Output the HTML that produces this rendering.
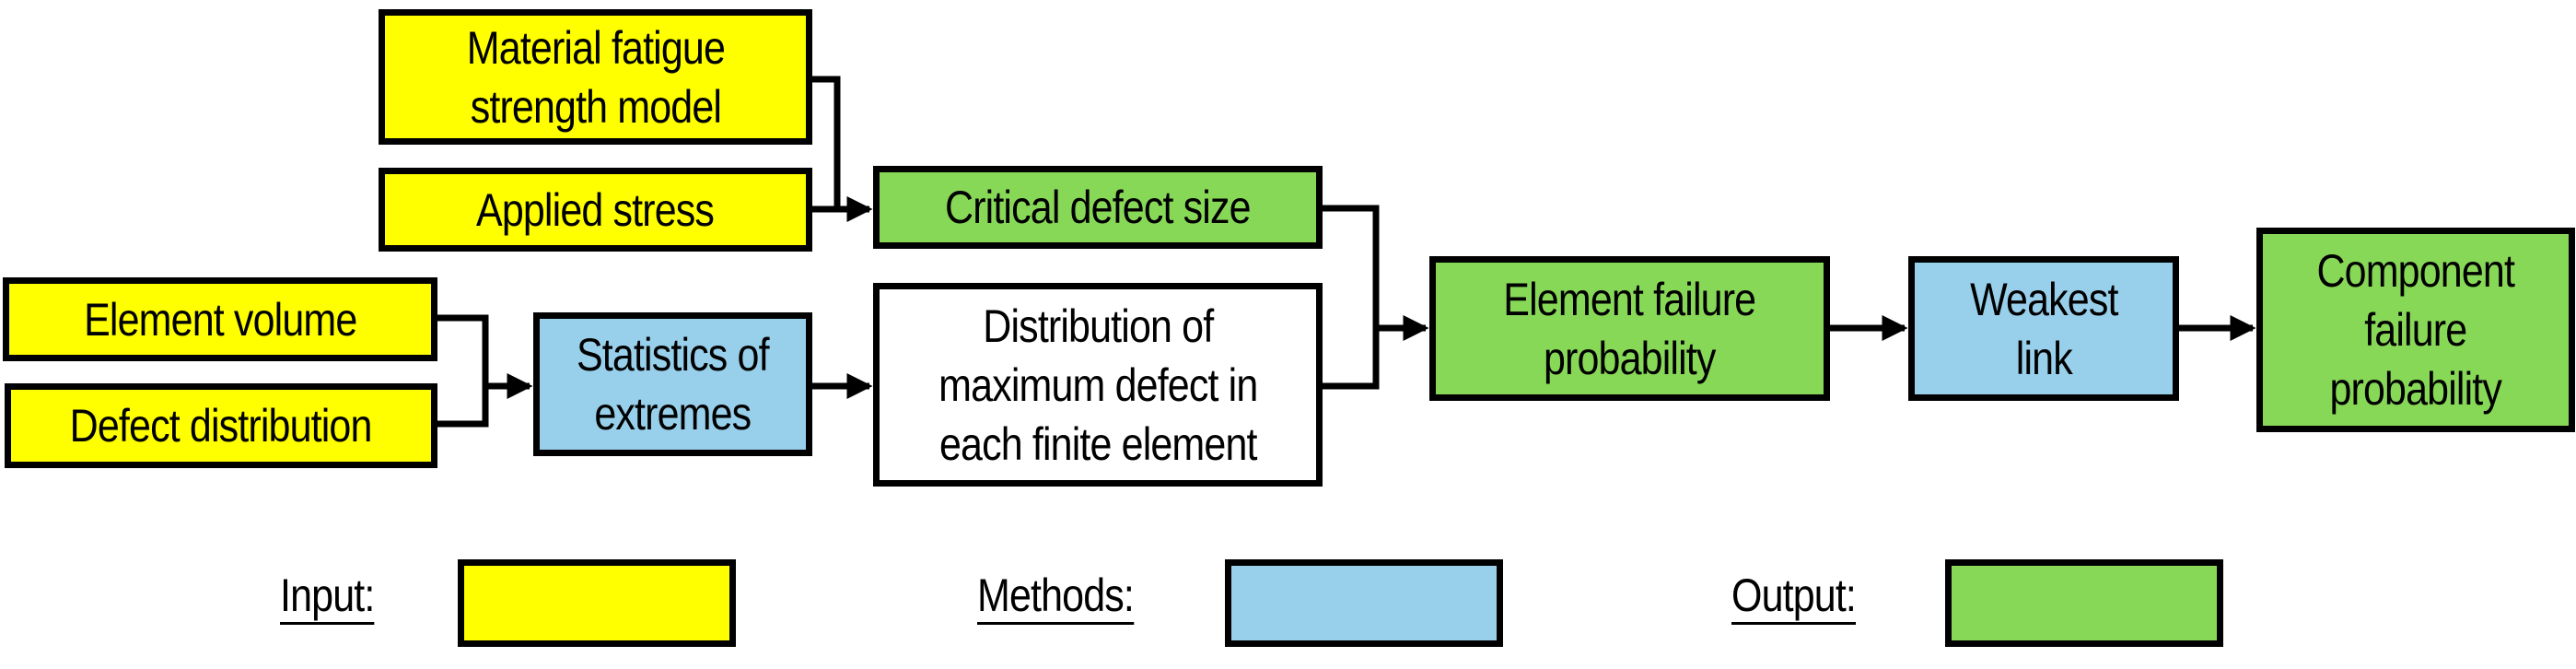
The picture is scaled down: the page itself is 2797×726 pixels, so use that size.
<!DOCTYPE html>
<html><head><meta charset="utf-8"><style>
html,body{margin:0;padding:0;background:#fff;}
#c{position:relative;width:2797px;height:726px;overflow:hidden;font-family:"Liberation Sans",sans-serif;}
.b{position:absolute;box-sizing:border-box;border:7px solid #000;display:flex;align-items:center;justify-content:center;text-align:center;font-size:50px;line-height:64px;letter-spacing:-1px;color:#000;}
.b span{display:inline-block;transform:scaleX(0.86);white-space:nowrap;}
.y{background:#ffff00}.g{background:#88d858}.bl{background:#98d0ec}.w{background:#fff}
.t{position:absolute;font-size:50px;letter-spacing:-1px;transform:scaleX(0.86);transform-origin:left top;border-bottom:3px solid #000;line-height:58px;}
svg{position:absolute;left:0;top:0}
</style></head><body><div id="c">
<svg width="2797" height="726">
<defs><marker id="a" markerWidth="4" markerHeight="4" refX="3.5" refY="2" orient="auto" markerUnits="strokeWidth"><path d="M0,0 L4,2 L0,4 Z" fill="#000"/></marker></defs>
<g stroke="#000" stroke-width="7" fill="none">
<polyline points="882,86 909,86 909,227"/>
<line x1="882" y1="227" x2="944" y2="227" marker-end="url(#a)"/>
<polyline points="475,345 527,345 527,460 475,460"/>
<line x1="527" y1="419" x2="575" y2="419" marker-end="url(#a)"/>
<line x1="882" y1="419" x2="944" y2="419" marker-end="url(#a)"/>
<polyline points="1436,226 1494,226 1494,419 1436,419"/>
<line x1="1494" y1="356" x2="1548" y2="356" marker-end="url(#a)"/>
<line x1="1987" y1="356" x2="2068" y2="356" marker-end="url(#a)"/>
<line x1="2366" y1="356" x2="2446" y2="356" marker-end="url(#a)"/>
</g></svg>
<div class="b y" style="left:411px;top:10px;width:471px;height:147px"><span>Material fatigue<br>strength model</span></div>
<div class="b y" style="left:411px;top:182px;width:471px;height:91px"><span>Applied stress</span></div>
<div class="b g" style="left:948px;top:180px;width:488px;height:90px"><span>Critical defect size</span></div>
<div class="b y" style="left:3px;top:301px;width:472px;height:91px"><span>Element volume</span></div>
<div class="b y" style="left:5px;top:416px;width:470px;height:92px"><span>Defect distribution</span></div>
<div class="b bl" style="left:579px;top:339px;width:303px;height:156px"><span>Statistics of<br>extremes</span></div>
<div class="b w" style="left:948px;top:307px;width:488px;height:221px"><span>Distribution of<br>maximum defect in<br>each finite element</span></div>
<div class="b g" style="left:1552px;top:278px;width:435px;height:157px"><span>Element failure<br>probability</span></div>
<div class="b bl" style="left:2072px;top:278px;width:294px;height:157px"><span>Weakest<br>link</span></div>
<div class="b g" style="left:2450px;top:247px;width:346px;height:222px"><span>Component<br>failure<br>probability</span></div>
<div class="t" style="left:304px;top:617px">Input:</div>
<div class="b y" style="left:497px;top:607px;width:302px;height:95px"></div>
<div class="t" style="left:1061px;top:617px">Methods:</div>
<div class="b bl" style="left:1330px;top:607px;width:302px;height:95px"></div>
<div class="t" style="left:1880px;top:617px">Output:</div>
<div class="b g" style="left:2112px;top:607px;width:302px;height:95px"></div>
</div></body></html>
